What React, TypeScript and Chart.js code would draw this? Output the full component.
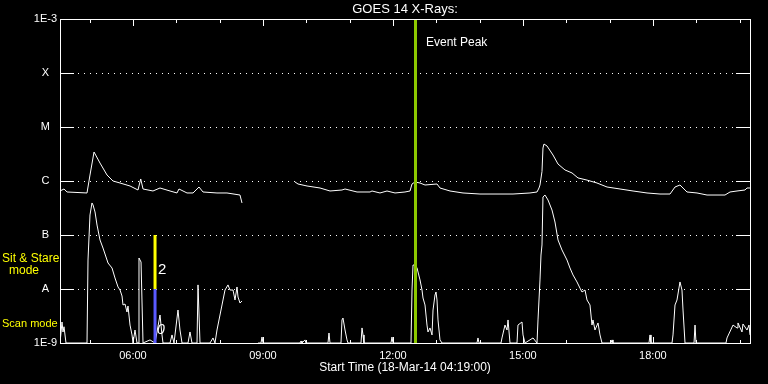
import React, { useEffect, useRef } from "react";
import { Chart, registerables } from "chart.js";

Chart.register(...registerables);

// ---- data ----
const START_HOUR = 4 + 19 / 60; // 04:19
const END_HOUR = 20.242;
const yTickValues = [1e-9, 1e-8, 1e-7, 1e-6, 1e-5, 1e-4, 1e-3];
const yTickLabels = ["1E-9", "A", "B", "C", "M", "X", "1E-3"];
const xLabelHours = [6, 9, 12, 15, 18];
const xMinorHours = [5, 6, 7, 8, 9, 10, 11, 12, 13, 14, 15, 16, 17, 18, 19, 20];

const eventPeakHour = 12.51;
const modeMarkHour = 6.51;
const sitStareRange = [1e-8, 1e-7];
const scanRange = [1e-9, 1e-8];

// 1-8 Å channel (upper curve)
const longTimes = [
  4.317, 4.409, 4.48, 4.94, 5.009, 5.102, 5.24, 5.402, 5.54, 5.702,
  5.933, 6.117, 6.18, 6.233, 6.463, 6.625, 6.856, 7.017, 7.063, 7.248,
  7.387, 7.525, 7.617, 7.94, 8.171, 8.471, 8.517,
  9.0,
  9.741, 9.81, 10.018, 10.318, 10.548, 10.825, 10.895, 11.172, 11.472, 11.518,
  11.702, 11.864, 12.049, 12.279, 12.395, 12.441, 12.51, 12.626, 12.741, 13.018,
  13.087, 13.318, 13.618, 14.01, 14.772, 15.164, 15.326, 15.372, 15.395, 15.441,
  15.464, 15.487, 15.557, 15.695, 15.811, 15.972, 16.134, 16.272, 16.48, 16.711,
  16.942, 17.242, 17.542, 17.865, 18.165, 18.396, 18.511, 18.626, 18.788, 19.019,
  19.25, 19.665, 19.781, 19.942, 20.126, 20.173, 20.242,
];
const longFlux = [
  6.53e-7, 7.11e-7, 6.26e-7, 6.0e-7, 1.29e-6, 3.44e-6, 2.15e-6, 1.29e-6, 1.0e-6, 9.18e-7,
  8.08e-7, 6.81e-7, 1.09e-6, 7.11e-7, 6.53e-7, 7.42e-7, 6.53e-7, 6.0e-7, 7.11e-7, 6.0e-7,
  6.0e-7, 7.74e-7, 6.26e-7, 6.0e-7, 6.0e-7, 5.5e-7, 3.92e-7,
  null,
  9.58e-7, 8.8e-7, 8.08e-7, 7.42e-7, 6.53e-7, 6.81e-7, 7.11e-7, 6.26e-7, 6.26e-7, 6.53e-7,
  6.0e-7, 6.53e-7, 6.0e-7, 6.26e-7, 6.53e-7, 8.8e-7, 9.58e-7, 9.18e-7, 8.43e-7, 8.8e-7,
  7.42e-7, 6.53e-7, 6.0e-7, 5.74e-7, 5.74e-7, 6.0e-7, 6.26e-7, 7.42e-7, 8.43e-7, 1.5e-6,
  4.08e-6, 4.84e-6, 4.45e-6, 3.03e-6, 2.06e-6, 1.6e-6, 1.41e-6, 1.14e-6, 1.04e-6, 9.18e-7,
  7.74e-7, 7.11e-7, 6.53e-7, 6.0e-7, 5.74e-7, 5.74e-7, 7.74e-7, 8.43e-7, 6.26e-7, 6.0e-7,
  5.5e-7, 5.5e-7, 6.26e-7, 6.53e-7, 6.81e-7, 7.42e-7, 7.42e-7,
];

// 0.5-4 Å channel (lower curve)
const shortTimes = [
  4.317, 4.363, 4.386, 4.409, 4.455, 4.94, 4.963, 5.009, 5.055, 5.079,
  5.125, 5.171, 5.24, 5.309, 5.425, 5.517, 5.586, 5.656, 5.702, 5.748,
  5.771, 5.817, 5.863, 5.886, 5.933, 5.979, 6.002, 6.048, 6.094, 6.117,
  6.14, 6.187, 6.233, 6.394, 6.51, 6.625, 6.671, 6.694, 6.856, 6.902,
  6.948, 7.04, 7.086, 7.133, 7.271, 7.317, 7.363, 7.479, 7.502, 7.548,
  7.779, 7.848, 7.894, 7.94, 8.056, 8.125, 8.194, 8.24, 8.31, 8.356,
  8.402, 8.425, 8.471, 8.517, 8.7, 8.887, 8.956, 8.979, 9.002, 9.856,
  9.879, 9.902, 9.971, 9.994, 10.502, 10.525, 10.548, 10.802, 10.825, 10.848,
  10.895, 10.941, 10.964, 11.264, 11.287, 11.31, 11.333, 11.956, 11.979, 12.002,
  12.418, 12.441, 12.464, 12.51, 12.557, 12.626, 12.672, 12.695, 12.741, 12.787,
  12.81, 12.856, 12.903, 12.926, 12.972, 12.995, 13.018, 13.041, 13.087, 13.134,
  13.941, 13.964, 13.987, 14.495, 14.518, 14.587, 14.634, 14.657, 14.703, 14.864,
  14.887, 14.98, 15.003, 15.049, 15.234, 15.326, 15.349, 15.395, 15.418, 15.441,
  15.464, 15.51, 15.58, 15.672, 15.741, 15.811, 15.903, 16.018, 16.087, 16.157,
  16.249, 16.318, 16.364, 16.434, 16.48, 16.549, 16.595, 16.618, 16.664, 16.734,
  16.78, 16.826, 17.034, 17.057, 17.08, 17.911, 17.934, 17.957, 18.442, 18.465,
  18.511, 18.557, 18.626, 18.672, 18.696, 18.742, 18.95, 18.973, 18.996, 19.688,
  19.711, 19.85, 19.942, 19.965, 20.057, 20.08, 20.173, 20.219, 20.242,
];
const shortFlux = [
  1e-9, 2.45e-9, 1.6e-9, 2.0e-9, 1e-9, 1e-9, 3.44e-8, 2.35e-7, 3.92e-7, 3.6e-7,
  2.67e-7, 1.53e-7, 8.08e-8, 5.74e-8, 3.03e-8, 2.45e-8, 1.6e-8, 1.09e-8, 9.58e-9, 7.42e-9,
  5.06e-9, 5.27e-9, 3.75e-9, 4.84e-9, 2.15e-9, 1.41e-9, 1e-9, 1.74e-9, 1e-9, 1e-9,
  3.75e-8, 3.16e-8, 1e-9, 1.14e-9, 1e-9, 3.3e-9, 1.41e-9, 1e-9, 1e-9, 1.41e-9,
  1e-9, 4.08e-9, 1.74e-9, 1e-9, 1e-9, 1.6e-9, 1e-9, 1e-9, 1.19e-8, 1e-9,
  1e-9, 1.24e-9, 1e-9, 1.74e-9, 5.06e-9, 9.58e-9, 1.19e-8, 9.58e-9, 9.58e-9, 6.26e-9,
  1.09e-8, 7.11e-9, 5.5e-9, 6.0e-9, null, 1e-9, 1e-9, 1.29e-9, 1e-9, 1e-9,
  1.09e-9, 1e-9, 1.14e-9, 1e-9, 1e-9, 1.53e-9, 1e-9, 1e-9, 2.67e-9, 2.9e-9,
  1.74e-9, 1.14e-9, 1e-9, 1e-9, 1.9e-9, 1.41e-9, 1e-9, 1e-9, 1.29e-9, 1e-9,
  1e-9, 9.58e-9, 2.78e-8, 2.78e-8, 2.45e-8, 1.47e-8, 9.58e-9, 6.81e-9, 5.06e-9, 2.15e-9,
  1.6e-9, 1.9e-9, 1.41e-9, 4.08e-9, 7.74e-9, 8.8e-9, 6.26e-9, 2.67e-9, 1.14e-9, 1e-9,
  1e-9, 1.24e-9, 1e-9, 1e-9, 1.24e-9, 2.15e-9, 1.74e-9, 2.67e-9, 1e-9, 1e-9,
  2.15e-9, 2.45e-9, 1.41e-9, 1e-9, 1.24e-9, 1e-9, 2.67e-9, 1.47e-8, 4.26e-8, 6.53e-8,
  5.06e-7, 5.5e-7, 4.45e-7, 2.9e-7, 1.74e-7, 8.08e-8, 5.27e-8, 3.44e-8, 2.45e-8, 1.82e-8,
  1.35e-8, 1.04e-8, 8.8e-9, 9.58e-9, 6.26e-9, 5.06e-9, 2.15e-9, 2.67e-9, 1.74e-9, 2.35e-9,
  1.41e-9, 1e-9, 1e-9, 1.14e-9, 1e-9, 1e-9, 1.41e-9, 1e-9, 1e-9, 1.41e-9,
  5.06e-9, 6.26e-9, 1.35e-8, 9.58e-9, 4.08e-9, 1e-9, 1e-9, 2.15e-9, 1e-9, 1e-9,
  1.24e-9, 2.15e-9, 1.9e-9, 2.35e-9, 1.6e-9, 2.25e-9, 1.74e-9, 2.15e-9, 1.41e-9,
];

const FONT = "'Liberation Sans', Arial, sans-serif";
const GREEN = "#8cc800";
const YELLOW = "#ffff00";
const BLUE = "#5a5aff";

const toPoints = (t: number[], f: (number | null)[]) => t.map((x, i) => ({ x, y: f[i] }));

const overlayPlugin = {
  id: "goesOverlay",
  beforeDatasetsDraw(chart: any) {
    const { ctx, chartArea, scales } = chart;
    const { left, right } = chartArea;
    const y = scales.y;
    ctx.save();
    ctx.fillStyle = "#ffffff";
    yTickValues.slice(1, -1).forEach((v) => {
      const py = Math.round(y.getPixelForValue(v));
      for (let px = left + 6; px < right - 2; px += 6) ctx.fillRect(px, py, 1, 1);
    });
    ctx.restore();
  },
  afterDatasetsDraw(chart: any) {
    const { ctx, chartArea, scales } = chart;
    const { left, right, top, bottom } = chartArea;
    const x = scales.x;
    const y = scales.y;
    ctx.save();
    // Event peak line
    const ex = Math.round(x.getPixelForValue(eventPeakHour));
    ctx.fillStyle = GREEN;
    ctx.fillRect(ex - 1, top, 3, bottom - top);
    ctx.fillStyle = "#ffffff";
    ctx.font = `12px ${FONT}`;
    ctx.textBaseline = "middle";
    ctx.textAlign = "left";
    ctx.fillText("Event Peak", ex + 11, 43);

    // box
    ctx.fillStyle = "#ffffff";
    ctx.fillRect(left, top, right - left + 1, 1);
    ctx.fillRect(left, bottom, right - left + 1, 1);
    ctx.fillRect(left, top, 1, bottom - top + 1);
    ctx.fillRect(right, top, 1, bottom - top + 1);

    // y tick marks inward, both sides
    yTickValues.slice(1, -1).forEach((v) => {
      const py = Math.round(y.getPixelForValue(v));
      ctx.fillRect(left, py, 14, 1);
      ctx.fillRect(right - 14, py, 14, 1);
    });
    // x tick marks
    xMinorHours.forEach((h) => {
      const px = Math.round(x.getPixelForValue(h));
      const len = h % 3 === 0 ? 7 : 4;
      ctx.fillRect(px, top, 1, len);
      ctx.fillRect(px, bottom - len + 1, 1, len);
    });

    // mode labels
    ctx.fillStyle = YELLOW;
    ctx.font = `12px ${FONT}`;
    ctx.textAlign = "left";
    ctx.fillText("Sit & Stare", 2, 259);
    ctx.textAlign = "center";
    ctx.fillText("mode", 24, 271);
    ctx.textAlign = "left";
    ctx.font = `11px ${FONT}`;
    ctx.fillText("Scan mode", 2, 324);

    // mode numbers
    const mx = x.getPixelForValue(modeMarkHour);
    ctx.fillStyle = "#ffffff";
    ctx.font = `15px ${FONT}`;
    ctx.textAlign = "left";
    ctx.fillText("2", mx + 3, 270);
    ctx.font = `italic 14px ${FONT}`;
    ctx.fillText("0", mx + 2, 330);
    ctx.restore();
  },
};

export default function App() {
  const ref = useRef<HTMLCanvasElement | null>(null);

  useEffect(() => {
    document.body.style.margin = "0";
    document.body.style.background = "#000";
    const canvas = ref.current;
    if (!canvas) return;
    const chart = new Chart(canvas, {
      type: "line",
      data: {
        datasets: [
          {
            label: "Sit & Stare",
            data: [
              { x: modeMarkHour, y: sitStareRange[0] },
              { x: modeMarkHour, y: sitStareRange[1] },
            ],
            borderColor: YELLOW,
            borderWidth: 3,
            pointRadius: 0,
          },
          {
            label: "Scan",
            data: [
              { x: modeMarkHour, y: scanRange[0] },
              { x: modeMarkHour, y: scanRange[1] },
            ],
            borderColor: BLUE,
            borderWidth: 3,
            pointRadius: 0,
          },
          {
            label: "1-8 A",
            data: toPoints(longTimes, longFlux),
            borderColor: "#ffffff",
            borderWidth: 1,
            pointRadius: 0,
            tension: 0,
            spanGaps: false,
          },
          {
            label: "0.5-4 A",
            data: toPoints(shortTimes, shortFlux),
            borderColor: "#ffffff",
            borderWidth: 1,
            pointRadius: 0,
            tension: 0,
            spanGaps: false,
          },
        ],
      },
      options: {
        animation: false,
        responsive: false,
        devicePixelRatio: 1,
        layout: { padding: { top: 0, right: 18, left: 0, bottom: 0 } },
        plugins: {
          legend: { display: false },
          tooltip: { enabled: false },
          title: {
            display: true,
            text: "GOES 14 X-Rays:",
            color: "#ffffff",
            fullSize: false,
            font: { family: FONT, size: 13, weight: "normal" },
            padding: { top: 1.5, bottom: 1.9 },
          },
        },
        scales: {
          x: {
            type: "linear",
            min: START_HOUR,
            max: END_HOUR,
            grid: { display: false, drawTicks: false },
            border: { display: false },
            afterBuildTicks: (s: any) => {
              s.ticks = xLabelHours.map((v) => ({ value: v }));
            },
            afterFit: (s: any) => {
              s.height = 41;
            },
            ticks: {
              color: "#ffffff",
              font: { family: FONT, size: 11 },
              padding: 6,
              maxRotation: 0,
              autoSkip: false,
              callback: (v: any) => `${String(v).padStart(2, "0")}:00`,
            },
            title: {
              display: true,
              text: "Start Time (18-Mar-14 04:19:00)",
              color: "#ffffff",
              font: { family: FONT, size: 12 },
              padding: { top: 0, bottom: 8.8 },
            },
          },
          y: {
            type: "logarithmic",
            min: 1e-9,
            max: 1e-3,
            grid: { display: false, drawTicks: false },
            border: { display: false },
            afterBuildTicks: (s: any) => {
              s.ticks = yTickValues.map((v) => ({ value: v }));
            },
            afterFit: (s: any) => {
              s.width = 60;
            },
            ticks: {
              color: "#ffffff",
              font: { family: FONT, size: 11 },
              padding: 3,
              crossAlign: "center",
              autoSkip: false,
              callback: (_v: any, i: number) => yTickLabels[i],
            },
          },
        },
      },
      plugins: [overlayPlugin],
    } as any);
    return () => chart.destroy();
  }, []);

  return (
    <div style={{ width: 768, height: 384, background: "#000" }}>
      <canvas ref={ref} width={768} height={384} style={{ display: "block" }} />
    </div>
  );
}
